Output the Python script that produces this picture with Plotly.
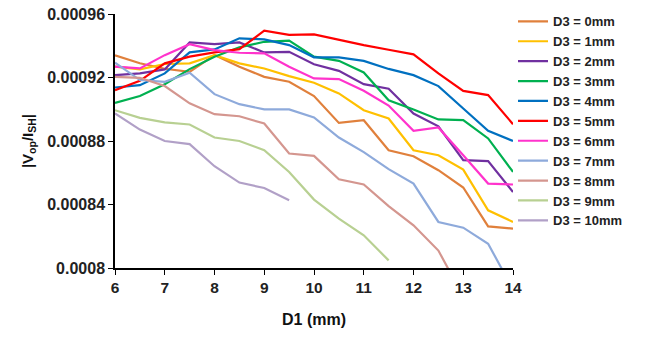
import plotly.graph_objects as go

d1 = [6, 6.5, 7, 7.5, 8, 8.5, 9, 9.5, 10, 10.5, 11, 11.5, 12, 12.5, 13, 13.5, 14]

d3_0 = [0.000934, 0.000929, 0.0009255, 0.0009236, 0.0009341, 0.0009268, 0.0009204, 0.0009173, 0.0009083, 0.0008914, 0.0008931, 0.0008742, 0.0008704, 0.0008616, 0.0008507, 0.0008262, 0.0008248]
d3_1 = [0.0009268, 0.0009251, 0.0009285, 0.0009289, 0.0009341, 0.0009289, 0.0009257, 0.0009209, 0.0009167, 0.00091, 0.0008994, 0.0008942, 0.0008742, 0.000871, 0.000862, 0.0008363, 0.000829]
d3_2 = [0.0009215, 0.0009226, 0.0009251, 0.0009421, 0.000941, 0.0009421, 0.0009358, 0.0009362, 0.0009283, 0.0009242, 0.0009158, 0.0009129, 0.0008973, 0.0008893, 0.0008679, 0.0008673, 0.0008479]
d3_3 = [0.000904, 0.0009083, 0.0009158, 0.0009253, 0.0009331, 0.000939, 0.0009425, 0.0009432, 0.0009331, 0.0009305, 0.0009232, 0.0009057, 0.0008999, 0.0008936, 0.0008931, 0.0008816, 0.0008605]
d3_4 = [0.0009137, 0.0009152, 0.0009226, 0.0009358, 0.0009377, 0.0009447, 0.000944, 0.0009404, 0.0009327, 0.0009327, 0.0009305, 0.0009254, 0.0009215, 0.0009146, 0.0009005, 0.0008864, 0.00088]
d3_5 = [0.000912, 0.0009179, 0.0009289, 0.0009331, 0.0009358, 0.0009379, 0.0009495, 0.0009468, 0.0009472, 0.0009436, 0.0009404, 0.0009375, 0.0009346, 0.0009226, 0.0009116, 0.0009089, 0.0008906]
d3_6 = [0.0009268, 0.0009257, 0.0009341, 0.000941, 0.0009373, 0.0009356, 0.0009352, 0.0009268, 0.0009194, 0.000919, 0.0009116, 0.0009023, 0.0008864, 0.0008885, 0.000871, 0.0008532, 0.0008526]
d3_7 = [0.0009293, 0.0009184, 0.0009173, 0.000923, 0.0009095, 0.0009032, 0.0008999, 0.0008999, 0.0008948, 0.0008822, 0.000873, 0.0008623, 0.0008532, 0.000829, 0.0008254, 0.0008153, 0.0007865]
d3_8 = [0.0009204, 0.0009198, 0.0009146, 0.0009037, 0.0008969, 0.0008956, 0.000891, 0.0008721, 0.0008706, 0.0008559, 0.0008526, 0.000839, 0.0008269, 0.000811, 0.000782]
d3_9 = [0.0008994, 0.0008946, 0.0008917, 0.0008904, 0.0008822, 0.00088, 0.0008742, 0.0008605, 0.0008431, 0.0008311, 0.0008206, 0.0008048]
d3_10 = [0.0008973, 0.0008872, 0.00088, 0.000878, 0.0008641, 0.0008538, 0.0008504, 0.0008427]

series = [d3_0, d3_1, d3_2, d3_3, d3_4, d3_5, d3_6, d3_7, d3_8, d3_9, d3_10]
names = ["D3 = 0mm", "D3 = 1mm", "D3 = 2mm", "D3 = 3mm", "D3 = 4mm", "D3 = 5mm",
         "D3 = 6mm", "D3 = 7mm", "D3 = 8mm", "D3 = 9mm", "D3 = 10mm"]
colors = ["#E0803C", "#FFC000", "#7030A0", "#00B050", "#0070C0", "#FF0000",
          "#FF33CC", "#8EAADB", "#D4968F", "#B8D092", "#B1A0C7"]

y_ticks = [0.0008, 0.00084, 0.00088, 0.00092, 0.00096]
y_tick_labels = ["0.0008", "0.00084", "0.00088", "0.00092", "0.00096"]
x_ticks = [6, 7, 8, 9, 10, 11, 12, 13, 14]

fig = go.Figure()
for vals, name, col in zip(series, names, colors):
    fig.add_trace(go.Scatter(x=d1[:len(vals)], y=vals, mode="lines", name=name,
                             line=dict(color=col, width=2.2)))

font_family = "Liberation Sans, Arial, sans-serif"
fig.update_layout(
    width=647, height=339,
    margin=dict(l=115, r=134, t=14, b=71, autoexpand=False),
    paper_bgcolor="white", plot_bgcolor="white",
    font=dict(family=font_family, color="#222222", weight="bold"),
    showlegend=True,
    legend=dict(x=1.0, y=1.03, xanchor="left", yanchor="top",
                maxheight=330,
                font=dict(size=13, family=font_family, color="#222222", weight="bold"),
                itemwidth=30, bgcolor="rgba(0,0,0,0)", tracegroupgap=0),
    xaxis=dict(range=[6, 14], tickvals=x_ticks, ticks="outside", ticklen=5,
               tickwidth=1.3, tickcolor="black", showline=True, linecolor="black",
               linewidth=1.5, showgrid=False, zeroline=False,
               tickfont=dict(size=15.5, family=font_family, color="#222222", weight="bold"),
               title=dict(text="D1 (mm)", standoff=18,
                          font=dict(size=16, family=font_family, color="#111111", weight="bold"))),
    yaxis=dict(range=[0.0008, 0.00096], tickvals=y_ticks, ticktext=y_tick_labels,
               ticks="outside", ticklen=5, tickwidth=1.3, tickcolor="black",
               showline=True, linecolor="black", linewidth=1.5, showgrid=False,
               zeroline=False,
               tickfont=dict(size=16, family=font_family, color="#222222", weight="bold"),
               title=dict(text="|V<sub>op</sub>/I<sub>SH</sub>|", standoff=10,
                          font=dict(size=15, family=font_family, color="#111111", weight="bold"))),
)

fig.write_html("out.html")
